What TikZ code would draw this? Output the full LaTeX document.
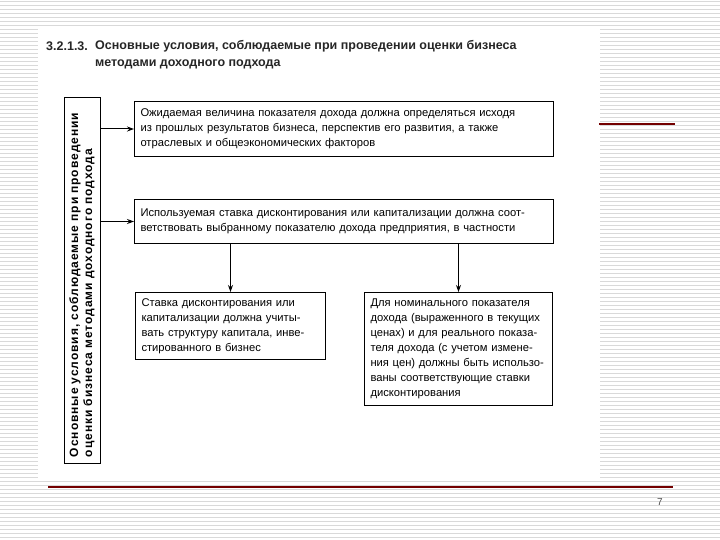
\documentclass[tikz,border=0pt]{standalone}
\usepackage{fontspec}
\setmainfont{Liberation Sans}
\usetikzlibrary{arrows.meta}

\begin{document}
\begin{tikzpicture}[
    x=1pt, y=-1pt,
    >={Stealth[length=7pt, width=5pt]},
    box/.style={draw, line width=1pt, anchor=north west, align=left, inner xsep=6pt, inner ysep=5pt, font=\fontsize{11.2}{15}\selectfont},
    sidebox/.style={draw, line width=1pt, rotate=90, align=left, inner xsep=6pt, inner ysep=0pt, font=\fontsize{12}{14}\selectfont\bfseries\addfontfeatures{LetterSpace=8}},
    arr/.style={->, line width=1pt},
    titlestyle/.style={inner sep=0pt, text=black!85, font=\fontsize{12.5}{17}\selectfont\bfseries},
    ruleline/.style={draw=red!45!black, line width=1.3pt},
]

% ============ slide background ============
\useasboundingbox (0,0) rectangle (720,540);
\foreach \y in {1,5,...,540}
    \draw[gray!30, line width=0.8pt] (0,\y) -- (720,\y);
\fill[white] (38,26) rectangle (600,478);

\draw[ruleline] (599,124) -- (675,124);
\draw[ruleline] (48,487) -- (673,487);
\node[font=\fontsize{10}{12}\selectfont, text=black!70] (pagenum) at (660,502) {7};

% ============ title ============
\node[titlestyle, anchor=west] (secnum) at (46,46) {3.2.1.3.};
\node[titlestyle, anchor=north west, align=left] (title) at (95,40)
    {Основные условия, соблюдаемые при проведении оценки бизнеса\\методами доходного подхода};

% ============ side box (rotated) ============
\node[sidebox, minimum width=365pt, minimum height=36pt, text width=353pt] (side) at (82,280.5)
    {Основные условия, соблюдаемые при проведении\\оценки бизнеса методами доходного подхода};

% ============ condition boxes ============
\node[box, text width=407pt, minimum height=55pt] (income) at (134,101)
    {Ожидаемая величина показателя дохода должна определяться исходя\\
     из прошлых результатов бизнеса, перспектив его развития, а также\\
     отраслевых и общеэкономических факторов};

\node[box, text width=407pt, minimum height=44pt] (rate) at (134,199)
    {Используемая ставка дисконтирования или капитализации должна соот-\\
     ветствовать выбранному показателю дохода предприятия, в частности};

\node[box, text width=178pt, minimum height=67pt] (capital) at (135,292)
    {Ставка дисконтирования или\\
     капитализации должна учиты-\\
     вать структуру капитала, инве-\\
     стированного в бизнес};

\node[box, text width=176pt, minimum height=113pt] (nominal) at (364,292)
    {Для номинального показателя\\
     дохода (выраженного в текущих\\
     ценах) и для реального показа-\\
     теля дохода (с учетом измене-\\
     ния цен) должны быть использо-\\
     ваны соответствующие ставки\\
     дисконтирования};

% ============ arrows ============
% side is rotated: its south anchor is the right edge on the page
\draw[arr] (side.south |- income.west) -- (income.west);
\draw[arr] (side.south |- rate.west) -- (rate.west);

\draw[arr] (capital.north |- rate.south) -- (capital.north);
\draw[arr] (nominal.north |- rate.south) -- (nominal.north);

\end{tikzpicture}
\end{document}
